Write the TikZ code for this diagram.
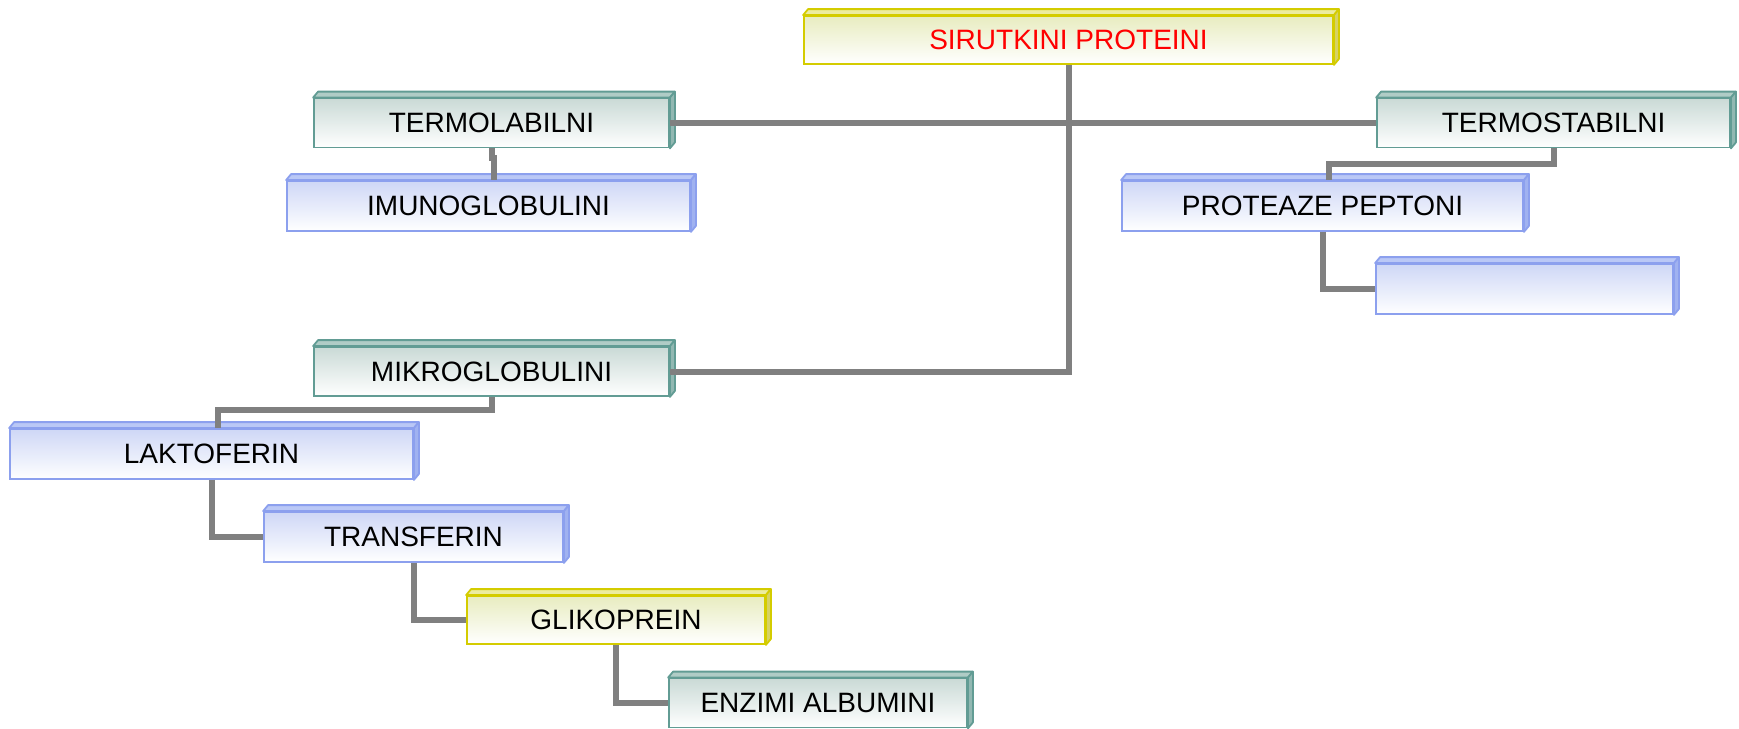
\documentclass[tikz,border=0pt]{standalone}
\usepackage{fontspec}
\setmainfont{Liberation Sans}
\definecolor{lineyel}{RGB}{212,204,0}
\definecolor{topyel}{RGB}{232,236,192}
\definecolor{faceyel}{RGB}{236,236,160}
\definecolor{sideyel}{RGB}{214,210,100}
\definecolor{lineteal}{RGB}{98,156,148}
\definecolor{topteal}{RGB}{202,218,214}
\definecolor{faceteal}{RGB}{176,204,198}
\definecolor{sideteal}{RGB}{146,184,178}
\definecolor{lineblue}{RGB}{140,160,238}
\definecolor{topblue}{RGB}{206,215,246}
\definecolor{faceblue}{RGB}{186,200,246}
\definecolor{sideblue}{RGB}{160,178,240}
\definecolor{linkgray}{RGB}{128,128,128}
\begin{document}
\begin{tikzpicture}[x=0.5pt,y=-0.5pt,font=\fontsize{14pt}{16pt}\selectfont,
	yellowbox/.style={draw=lineyel,top color=topyel,bottom color=white,line width=0.9pt,inner sep=0pt,minimum height=24pt},
	tealbox/.style={draw=lineteal,top color=topteal,bottom color=white,line width=0.9pt,inner sep=0pt,minimum height=24.5pt},
	bluebox/.style={draw=lineblue,top color=topblue,bottom color=white,line width=0.9pt,inner sep=0pt,minimum height=25pt},
	link/.style={draw=linkgray,line width=3pt}]
	\useasboundingbox (0,0) rectangle (1739,728);
	% boxes
	\node[yellowbox,minimum width=264.5pt,text=red] (sir) at (1068.5,40) {SIRUTKINI PROTEINI};
	\node[tealbox,minimum width=177.5pt] (terml) at (491.5,123) {TERMOLABILNI};
	\node[tealbox,minimum width=176.5pt] (termst) at (1553.5,123) {TERMOSTABILNI};
	\node[bluebox,minimum width=201.5pt] (imuno) at (488.5,206) {IMUNOGLOBULINI};
	\node[bluebox,minimum width=200.5pt] (prot) at (1322.5,206) {PROTEAZE PEPTONI};
	\node[bluebox,minimum width=148.5pt] (empty) at (1524.5,289) {};
	\node[tealbox,minimum width=177.5pt] (mikro) at (491.5,371.5) {MIKROGLOBULINI};
	\node[bluebox,minimum width=201.5pt] (lakto) at (211.5,454) {LAKTOFERIN};
	\node[bluebox,minimum width=149.5pt] (trans) at (413.5,537) {TRANSFERIN};
	\node[yellowbox,minimum width=149pt] (gliko) at (616,620) {GLIKOPREIN};
	\node[tealbox,minimum width=149pt] (enzimi) at (818,703) {ENZIMI ALBUMINI};
	% top and side faces
	\foreach \n/\c in {sir/yel,gliko/yel,terml/teal,termst/teal,mikro/teal,enzimi/teal,imuno/blue,prot/blue,empty/blue,lakto/blue,trans/blue}{
		\filldraw[draw=line\c,fill=face\c,line width=0.9pt,line join=round] (\n.north west) -- ++(5,-6) -- ([shift={(5,-6)}]\n.north east) -- (\n.north east) -- cycle;
		\filldraw[draw=line\c,fill=side\c,line width=0.9pt,line join=round] (\n.north east) -- ++(5,-6) -- ([shift={(5,-6)}]\n.south east) -- (\n.south east) -- cycle;
	}
	% connectors
	\draw[link] (terml.east) -- (termst.west);
	\draw[link] (sir.south) |- (mikro.east);
	\draw[link] (terml.south) -- ++(0,10) -| ([xshift=2.5pt]imuno.north);
	\draw[link] (termst.south) -- ++(0,16) -| ([xshift=3pt]prot.north);
	\draw[link] (prot.south) |- (empty.west);
	\draw[link] (mikro.south) -- ++(0,13) -| ([xshift=3pt]lakto.north);
	\draw[link] (lakto.south) |- (trans.west);
	\draw[link] (trans.south) |- (gliko.west);
	\draw[link] (gliko.south) |- (enzimi.west);
\end{tikzpicture}
\end{document}
